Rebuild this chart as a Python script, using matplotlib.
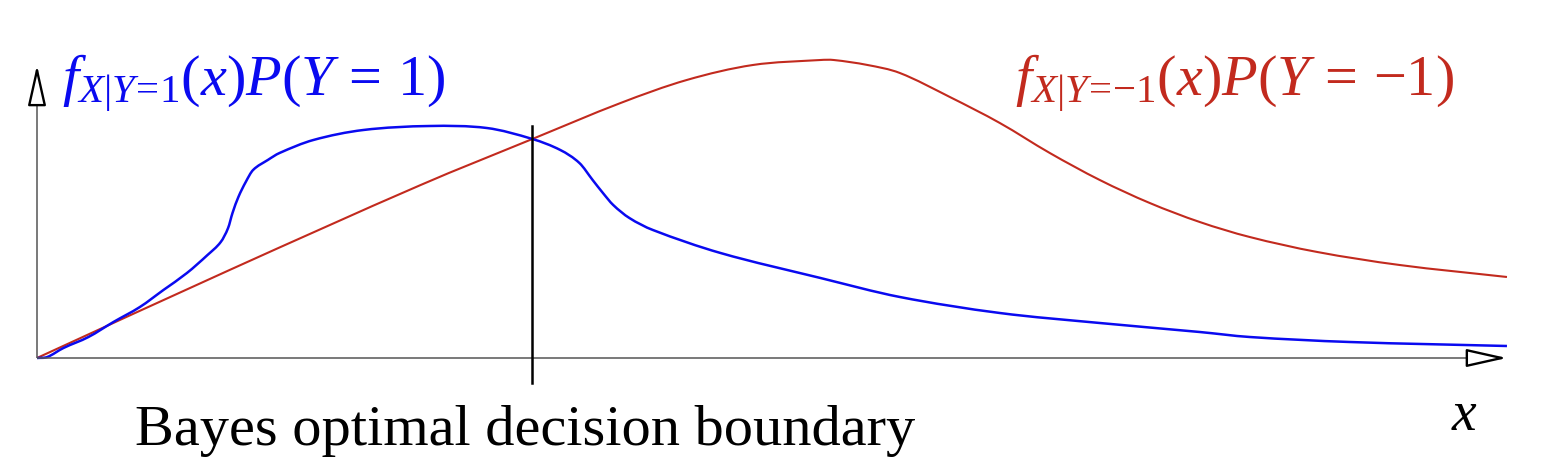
import numpy as np
import matplotlib
matplotlib.use("Agg")
import matplotlib.pyplot as plt
from matplotlib.path import Path
from matplotlib.patches import PathPatch

plt.rcParams["mathtext.fontset"] = "custom"
plt.rcParams["mathtext.rm"] = "Liberation Serif"
plt.rcParams["mathtext.it"] = "Liberation Serif:italic"
plt.rcParams["mathtext.bf"] = "Liberation Serif:bold"
plt.rcParams["font.family"] = "Liberation Serif"

# class-weighted densities
blue_x = [0, 0.07, 0.18, 0.35, 0.52, 0.70, 0.86, 1.02, 1.16, 1.25,
          1.30, 1.33, 1.37, 1.42, 1.47, 1.57, 1.65, 1.88, 2.22, 2.67,
          3.06, 3.37, 3.56, 3.69, 3.78, 3.85, 3.92, 4.03, 4.19, 4.65,
          5.33, 5.87, 6.55, 7.23, 7.91, 8.25, 8.93, 10.0]
blue_y = [0, 0.01, 0.10, 0.21, 0.36, 0.51, 0.68, 0.85, 1.03, 1.16,
          1.30, 1.45, 1.61, 1.76, 1.88, 1.98, 2.05, 2.18, 2.28, 2.32,
          2.30, 2.19, 2.08, 1.95, 1.78, 1.65, 1.53, 1.40, 1.28, 1.05,
          0.80, 0.61, 0.45, 0.35, 0.26, 0.21, 0.16, 0.12]

red_x = [0, 1.31, 2.61, 3.37, 3.97, 4.42, 4.87, 5.33, 5.42, 5.65,
         5.87, 6.21, 6.55, 6.89, 7.23, 7.57, 7.91, 8.25, 8.71, 9.27, 10.0]
red_y = [0, 0.88, 1.73, 2.19, 2.55, 2.78, 2.93, 2.98, 2.98, 2.93,
         2.85, 2.61, 2.35, 2.05, 1.78, 1.55, 1.36, 1.21, 1.06, 0.93, 0.81]

boundary_x = 3.37

BLUE = "#0a0af0"
RED = "#c22a1e"


def smooth_path(xs, ys):
    # cubic bezier through the read points (hermite tangents)
    xs = np.asarray(xs, float)
    ys = np.asarray(ys, float)
    n = len(xs)
    m = np.empty(n)
    m[0] = (ys[1] - ys[0]) / (xs[1] - xs[0])
    m[-1] = (ys[-1] - ys[-2]) / (xs[-1] - xs[-2])
    m[1:-1] = (ys[2:] - ys[:-2]) / (xs[2:] - xs[:-2])
    verts = [(xs[0], ys[0])]
    codes = [Path.MOVETO]
    for i in range(n - 1):
        h = xs[i + 1] - xs[i]
        verts += [(xs[i] + h / 3, ys[i] + m[i] * h / 3),
                  (xs[i + 1] - h / 3, ys[i + 1] - m[i + 1] * h / 3),
                  (xs[i + 1], ys[i + 1])]
        codes += [Path.CURVE4] * 3
    return Path(verts, codes)


fig = plt.figure(figsize=(15.44, 4.58), dpi=100)
ax = fig.add_axes([0, 0, 1, 1])
ax.set_xlim(-0.2517, 10.252)
ax.set_ylim(-1.0, 3.58)
ax.set_axis_off()

### axes with open arrow heads
ax.plot([0, 9.76], [0, 0], color="#555555", lw=1.1, solid_capstyle="butt")
ax.plot([0, 0], [0, 2.58], color="#555555", lw=1.1, solid_capstyle="butt")
head = dict(arrowstyle="-|>,head_length=25,head_width=5.6", mutation_scale=1,
            fc="white", ec="black", lw=1.7, shrinkA=0, shrinkB=0)
ax.annotate("", xy=(10.0, 0), xytext=(9.76, 0), arrowprops=head)
ax.annotate("", xy=(0, 2.93), xytext=(0, 2.58), arrowprops=head)

### curves
ax.add_patch(PathPatch(smooth_path(red_x, red_y), fill=False, ec=RED, lw=1.5))
ax.add_patch(PathPatch(smooth_path(blue_x, blue_y), fill=False, ec=BLUE, lw=1.8))

### decision boundary
ax.plot([boundary_x, boundary_x], [-0.25, 2.32], color="black", lw=1.8)

### labels
ax.text(0.17, 2.62, r"$f_{X|Y\!=\!1}(x)P(Y\,=\,1)$", color=BLUE, fontsize=42,
        ha="left", va="baseline")
ax.text(6.65, 2.62, r"$f_{X|Y\!=\!{-}1}(x)P(Y\,=\,{-}1)$", color=RED,
        fontsize=42, ha="left", va="baseline")
ax.text(3.32, -0.87, "Bayes optimal decision boundary", fontsize=42,
        ha="center", va="baseline")
ax.text(9.71, -0.72, r"$x$", fontsize=40, ha="center", va="baseline")

plt.savefig("out.png", dpi=100)
